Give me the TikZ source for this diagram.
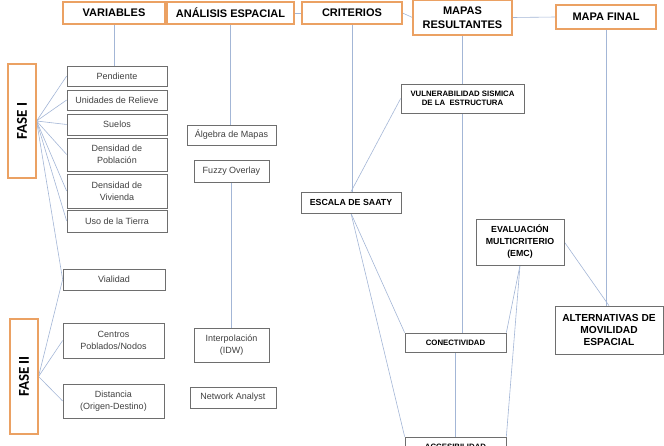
\documentclass[tikz,border=0pt]{standalone}
\usepackage{fontspec}
\setmainfont{Liberation Sans}
\newfontfamily\calib{Carlito}
\usetikzlibrary{shadows,backgrounds}
\definecolor{orng}{HTML}{EBA163}
\definecolor{lnk}{HTML}{A3B6D6}
\definecolor{gbord}{HTML}{6E6E6E}
\definecolor{gtext}{HTML}{404040}
\begin{document}
\begin{tikzpicture}[x=1pt,y=-1pt,
  head/.style={draw=orng, line width=1.1pt, fill=white, inner sep=0pt, align=center,
    font=\fontsize{11}{14}\selectfont\bfseries,
    drop shadow={opacity=0.25, shadow xshift=0.8pt, shadow yshift=-0.8pt}},
  fase/.style={draw=orng, line width=1.1pt, fill=white, inner sep=0pt,
    font=\calib\fontsize{15}{17}\selectfont\bfseries},
  vbox/.style={draw=gbord, line width=0.7pt, fill=white, inner sep=0pt, align=center,
    text=gtext, font=\fontsize{9}{12}\selectfont},
  cbox/.style={draw=gbord, line width=0.7pt, fill=white, inner sep=0pt, align=center,
    font=\fontsize{7.6}{9.5}\selectfont\bfseries},
  link/.style={draw=lnk, line width=0.6pt}]
\useasboundingbox (0,0) rectangle (664,445);
\clip (0,0) rectangle (664,445);

% header nodes
\node[head, minimum width=102pt, minimum height=22pt] (var) at (114,13) {VARIABLES};
\node[head, minimum width=127pt, minimum height=22pt] (anal) at (230.5,13) {ANÁLISIS ESPACIAL};
\node[head, minimum width=100pt, minimum height=22pt] (crit) at (352,13) {CRITERIOS};
\node[head, minimum width=99pt, minimum height=35pt] (mapas) at (462.5,17.5) {MAPAS\\RESULTANTES};
\node[head, minimum width=100pt, minimum height=24pt] (mf) at (606,17) {MAPA FINAL};

% fases
\node[fase, minimum width=28pt, minimum height=114pt] (f1) at (22,121) {\rotatebox{90}{FASE I}};
\node[fase, minimum width=28pt, minimum height=115pt] (f2) at (24,376.5) {\rotatebox{90}{FASE II}};

% variables
\node[vbox, minimum width=100pt, minimum height=20pt] (pend) at (117,76) {Pendiente};
\node[vbox, minimum width=100pt, minimum height=20pt] (unid) at (117,100) {Unidades de Relieve};
\node[vbox, minimum width=100pt, minimum height=21pt] (suel) at (117,124.5) {Suelos};
\node[vbox, minimum width=100pt, minimum height=33pt] (dpob) at (117,154.5) {Densidad de\\Población};
\node[vbox, minimum width=100pt, minimum height=34pt] (dviv) at (117,191) {Densidad de\\Vivienda};
\node[vbox, minimum width=100pt, minimum height=22pt] (uso) at (117,221) {Uso de la Tierra};
\node[vbox, minimum width=102pt, minimum height=21pt] (vial) at (114,279.5) {Vialidad};
\node[vbox, minimum width=101pt, minimum height=35pt] (cent) at (113.5,340.5) {Centros\\Poblados/Nodos};
\node[vbox, minimum width=101pt, minimum height=34pt] (dist) at (113.5,401) {Distancia\\(Origen-Destino)};

% analisis
\node[vbox, minimum width=89pt, minimum height=20pt] (alg) at (231.5,135) {Álgebra de Mapas};
\node[vbox, minimum width=75pt, minimum height=22pt] (fuzz) at (231.5,171) {Fuzzy Overlay};
\node[vbox, minimum width=75pt, minimum height=34pt] (intp) at (231.5,345) {Interpolación\\(IDW)};
\node[vbox, minimum width=86pt, minimum height=21pt] (netw) at (233,397.5) {Network Analyst};

% criterios / mapas
\node[cbox, minimum width=100pt, minimum height=21pt, font=\fontsize{8.8}{10}\selectfont\bfseries] (saaty) at (351,202.5) {ESCALA DE SAATY};
\node[cbox, minimum width=123pt, minimum height=29pt, font=\fontsize{7.8}{9.5}\selectfont\bfseries] (vuln) at (462.5,98.5) {VULNERABILIDAD SISMICA\\DE LA \ ESTRUCTURA};
\node[cbox, minimum width=88pt, minimum height=46pt, font=\fontsize{8.8}{12}\selectfont\bfseries] (emc) at (520,242) {EVALUACIÓN\\MULTICRITERIO\\(EMC)};
\node[cbox, minimum width=101pt, minimum height=19pt, font=\fontsize{7.8}{9}\selectfont\bfseries] (conec) at (455.5,342.5) {CONECTIVIDAD};
\node[cbox, minimum width=101pt, minimum height=20pt, font=\fontsize{7.8}{9}\selectfont\bfseries] (acc) at (455.5,447) {ACCESIBILIDAD};
\node[cbox, minimum width=108pt, minimum height=48pt, font=\fontsize{10.2}{12}\selectfont\bfseries] (alt) at (609,330) {ALTERNATIVAS DE\\MOVILIDAD\\ESPACIAL};

% connectors (drawn behind boxes)
\begin{pgfonlayer}{background}
\path[link] (var.east) -- (anal.west);
\path[link] (anal.east) -- (crit.west);
\path[link] (crit.east) -- (mapas.west);
\path[link] (mapas.east) -- (mf.west);
\path[link] (var.south) -- (var.south |- pend.north);
\path[link] (anal.south) -- (anal.south |- alg.north);
\path[link] (fuzz.south) -- (intp.north);
\path[link] (crit.south) -- (crit.south |- saaty.north);
\path[link] (mapas.south) -- (mapas.south |- vuln.north);
\path[link] (mapas.south |- vuln.south) -- (mapas.south |- conec.north);
\path[link] (conec.south) -- (acc.north);
\path[link] (mf.south) -- (mf.south |- alt.north);
\path[link] (saaty.north) -- (vuln.west);
\path[link] (saaty.south) -- (conec.north west);
\path[link] (saaty.south) -- (acc.north west);
\path[link] (emc.south) -- (conec.north east);
\path[link] (emc.south) -- (acc.north east);
\path[link] (emc.east) -- (alt.north);
\foreach \t in {pend,unid,suel,dpob,dviv,uso,vial}
  \path[link] (f1.east) -- (\t.west);
\foreach \t in {vial,cent,dist}
  \path[link] (f2.east) -- (\t.west);
\end{pgfonlayer}
\end{tikzpicture}
\end{document}
